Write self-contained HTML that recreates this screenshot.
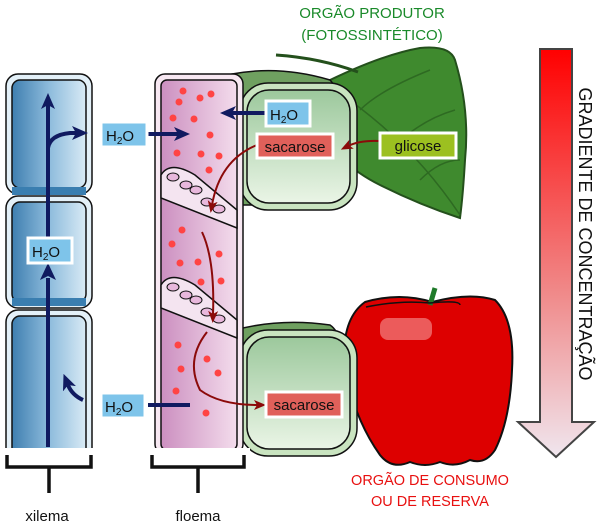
<!DOCTYPE html>
<html><head><meta charset="utf-8"><style>
html,body{margin:0;padding:0;background:#fff;}
svg{display:block;font-family:"Liberation Sans",sans-serif;}
</style></head><body>
<svg width="600" height="526" viewBox="0 0 600 526" xmlns="http://www.w3.org/2000/svg">
<defs>
<linearGradient id="xl" x1="0" x2="1"><stop offset="0" stop-color="#3f7fb0"/><stop offset="0.5" stop-color="#8dbbdc"/><stop offset="1" stop-color="#d8eaf5"/></linearGradient>
<linearGradient id="fl" x1="0" x2="1"><stop offset="0" stop-color="#cc8fc0"/><stop offset="1" stop-color="#f3dcec"/></linearGradient>
<linearGradient id="cc" x1="0" y1="0" x2="0" y2="1"><stop offset="0" stop-color="#9cc89c"/><stop offset="1" stop-color="#eaf5e6"/></linearGradient>
<linearGradient id="gr" x1="0" y1="0" x2="0" y2="1"><stop offset="0" stop-color="#ff0000"/><stop offset="0.6" stop-color="#f08a8a"/><stop offset="1" stop-color="#f0e6ee"/></linearGradient>
<marker id="ab" markerWidth="16" markerHeight="16" refX="4" refY="8" orient="auto" markerUnits="userSpaceOnUse"><path d="M0,1 L16,8 L0,15 L4,8z" fill="#101a60"/></marker>
<marker id="ar" markerWidth="12" markerHeight="12" refX="4" refY="6" orient="auto" markerUnits="userSpaceOnUse"><path d="M0,1 L12,6 L0,11 L3,6z" fill="#8b0a0a"/></marker>
</defs>

<text x="372" y="18" font-size="15" fill="#1a8a2a" text-anchor="middle">ORGÃO PRODUTOR</text>
<text x="372" y="40" font-size="15" fill="#1a8a2a" text-anchor="middle">(FOTOSSINTÉTICO)</text>

<!-- leaf -->
<path d="M320,85 Q380,55 420,48 Q450,45 455,60 Q470,110 465,160 Q463,195 460,218 Q420,205 380,185 Q330,160 320,120z" fill="#3f8a2e" stroke="#24501c" stroke-width="2"/>
<path d="M335,90 Q410,140 460,215 M360,110 Q380,90 430,70 M390,150 Q420,120 455,110 M420,180 Q440,160 460,160" stroke="#2e6a22" stroke-width="1.5" fill="none"/>
<path d="M276,55 Q320,58 358,72" stroke="#24501c" stroke-width="3" fill="none"/>

<!-- gradient arrow -->
<path d="M540,49 H572 V422 H594 L556,457 L518,422 H540z" fill="url(#gr)" stroke="#444" stroke-width="2"/>
<text transform="translate(579,234) rotate(90)" font-size="18" fill="#111" text-anchor="middle">GRADIENTE DE CONCENTRAÇÃO</text>

<!-- apple -->
<path d="M365,302 Q400,292 432,302 Q470,292 495,300 Q515,320 512,370 Q510,420 495,450 Q485,465 470,460 Q455,468 440,462 Q425,468 410,462 Q392,470 380,455 Q355,420 345,370 Q340,320 365,302z" fill="#dd0000" stroke="#111" stroke-width="2"/>
<path d="M430,305 L435,288" stroke="#1f7a2a" stroke-width="5"/>
<path d="M366,307 Q400,300 430,303 Q460,300 460,305" stroke="#111" stroke-width="1.5" fill="none"/>
<rect x="380" y="318" width="52" height="22" rx="8" fill="#f07a7a" opacity="0.75"/>
<text x="430" y="485" font-size="14.5" fill="#e81010" text-anchor="middle">ORGÃO DE CONSUMO</text>
<text x="430" y="506" font-size="14.5" fill="#e81010" text-anchor="middle">OU DE RESERVA</text>

<!-- companion cells -->
<path d="M232,74 Q280,65 330,80 Q350,100 348,180 Q340,205 300,205 L240,205z" fill="#6fa060" stroke="#111" stroke-width="1.5"/>
<rect x="240" y="83" width="117" height="127" rx="28" fill="#c9e4c0" stroke="#111" stroke-width="1.5"/>
<rect x="247" y="90" width="103" height="113" rx="22" fill="url(#cc)" stroke="#111" stroke-width="1.5"/>
<path d="M235,330 Q280,318 330,325 Q345,335 345,380 L240,380z" fill="#6fa060" stroke="#111" stroke-width="1.5"/>
<rect x="240" y="330" width="117" height="126" rx="28" fill="#c9e4c0" stroke="#111" stroke-width="1.5"/>
<rect x="247" y="337" width="103" height="112" rx="22" fill="url(#cc)" stroke="#111" stroke-width="1.5"/>

<!-- xylem -->
<g stroke="#111" stroke-width="1.5">
<rect x="6" y="74" width="86" height="120" rx="12" fill="#e3f0f8"/>
<rect x="12" y="80" width="74" height="108" rx="8" fill="url(#xl)"/>
<rect x="6" y="196" width="86" height="112" rx="12" fill="#e3f0f8"/>
<rect x="12" y="202" width="74" height="100" rx="8" fill="url(#xl)"/>
<rect x="6" y="310" width="86" height="160" rx="12" fill="#e3f0f8"/>
<rect x="12" y="316" width="74" height="160" rx="8" fill="url(#xl)"/>
</g>
<rect x="12" y="187" width="74" height="8" fill="#3a7eb0"/>
<rect x="12" y="298" width="74" height="8" fill="#3a7eb0"/>
<rect x="0" y="448" width="100" height="30" fill="#fff"/>

<!-- phloem -->
<g stroke="#111" stroke-width="1.5">
<rect x="155" y="74" width="88" height="380" rx="10" fill="#f7e8f2"/>
<rect x="161" y="80" width="76" height="370" rx="6" fill="url(#fl)"/>
</g>
<rect x="150" y="448" width="100" height="30" fill="#fff"/>
<g stroke="#111" stroke-width="1.5">
<path d="M161,175 Q170,160 195,175 L237,210 L237,228 L161,198z" fill="#f4e4f0"/>
<path d="M161,285 Q170,270 195,285 L237,320 L237,338 L161,308z" fill="#f4e4f0"/>
</g>
<g fill="#e8b8dc" stroke="#111" stroke-width="1">
<ellipse cx="173" cy="177" rx="6" ry="4"/><ellipse cx="186" cy="185" rx="6" ry="4"/><ellipse cx="196" cy="190" rx="6" ry="4"/><ellipse cx="207" cy="202" rx="6" ry="4"/><ellipse cx="219" cy="209" rx="6" ry="4"/>
<ellipse cx="173" cy="287" rx="6" ry="4"/><ellipse cx="186" cy="295" rx="6" ry="4"/><ellipse cx="196" cy="300" rx="6" ry="4"/><ellipse cx="207" cy="312" rx="6" ry="4"/><ellipse cx="219" cy="319" rx="6" ry="4"/>
</g>
<g fill="#f44">
<circle cx="183" cy="91" r="3.5"/><circle cx="200" cy="98" r="3.5"/><circle cx="211" cy="94" r="3.5"/><circle cx="179" cy="102" r="3.5"/><circle cx="173" cy="118" r="3.5"/><circle cx="194" cy="119" r="3.5"/><circle cx="210" cy="135" r="3.5"/><circle cx="177" cy="153" r="3.5"/><circle cx="201" cy="154" r="3.5"/><circle cx="219" cy="156" r="3.5"/><circle cx="209" cy="170" r="3.5"/>
<circle cx="182" cy="230" r="3.5"/><circle cx="172" cy="244" r="3.5"/><circle cx="219" cy="254" r="3.5"/><circle cx="180" cy="263" r="3.5"/><circle cx="198" cy="262" r="3.5"/><circle cx="201" cy="282" r="3.5"/><circle cx="221" cy="281" r="3.5"/>
<circle cx="178" cy="345" r="3.5"/><circle cx="207" cy="359" r="3.5"/><circle cx="181" cy="369" r="3.5"/><circle cx="218" cy="373" r="3.5"/><circle cx="176" cy="391" r="3.5"/><circle cx="206" cy="413" r="3.5"/>
</g>

<!-- blue arrows -->
<g stroke="#101a60" stroke-width="4" fill="none">
<path d="M48,447 V278" />
<path d="M48,237 V105" marker-end="url(#ab)"/>
<path d="M48,148 Q50,135 70,133 H76" marker-end="url(#ab)"/>
<path d="M148,134 H178" marker-end="url(#ab)"/>
<path d="M268,113 H232" marker-end="url(#ab)"/>
<path d="M148,405 H190"/>
<path d="M83,400 Q72,395 68,385" marker-end="url(#ab)"/>
</g>
<path d="M48,263 L40,280 L48,276 L56,280z" fill="#101a60"/>
<g stroke="#8b0a0a" stroke-width="2" fill="none">
<path d="M380,141 Q360,140 348,146" marker-end="url(#ar)"/>
<path d="M257,145 Q220,160 212,205" marker-end="url(#ar)"/>
<path d="M202,232 Q215,260 213,315" marker-end="url(#ar)"/>
<path d="M207,332 Q185,360 200,390 Q220,405 258,405" marker-end="url(#ar)"/>
</g>

<g font-size="15">
<rect x="101" y="122" width="46" height="25" fill="#7ec4ea" stroke="#fff" stroke-width="3"/>
<text x="106" y="141" fill="#111">H<tspan font-size="10" dy="3">2</tspan><tspan dy="-3">O</tspan></text>
<rect x="28" y="238" width="44" height="25" fill="#7ec4ea" stroke="#fff" stroke-width="3"/>
<text x="32" y="257" fill="#111">H<tspan font-size="10" dy="3">2</tspan><tspan dy="-3">O</tspan></text>
<rect x="266" y="101" width="44" height="25" fill="#7ec4ea" stroke="#fff" stroke-width="3"/>
<text x="270" y="120" fill="#111">H<tspan font-size="10" dy="3">2</tspan><tspan dy="-3">O</tspan></text>
<rect x="101" y="393" width="44" height="25" fill="#7ec4ea" stroke="#fff" stroke-width="3"/>
<text x="105" y="412" fill="#111">H<tspan font-size="10" dy="3">2</tspan><tspan dy="-3">O</tspan></text>
<rect x="257" y="134" width="76" height="24" fill="#e0605a" stroke="#fff" stroke-width="3"/>
<text x="295" y="152" fill="#111" text-anchor="middle">sacarose</text>
<rect x="266" y="392" width="76" height="25" fill="#e0605a" stroke="#fff" stroke-width="3"/>
<text x="304" y="410" fill="#111" text-anchor="middle">sacarose</text>
<rect x="380" y="133" width="76" height="25" fill="#9cc020" stroke="#fff" stroke-width="3"/>
<text x="418" y="151" fill="#111" text-anchor="middle">glicose</text>
</g>

<g stroke="#111" stroke-width="3.5" fill="none">
<path d="M7,455 V467 H91 V455 M49,467 V493"/>
<path d="M152,455 V467 H244 V455 M198,467 V493"/>
</g>
<text x="47" y="521" font-size="15" fill="#111" text-anchor="middle">xilema</text>
<text x="198" y="521" font-size="15" fill="#111" text-anchor="middle">floema</text>
</svg>
</body></html>
